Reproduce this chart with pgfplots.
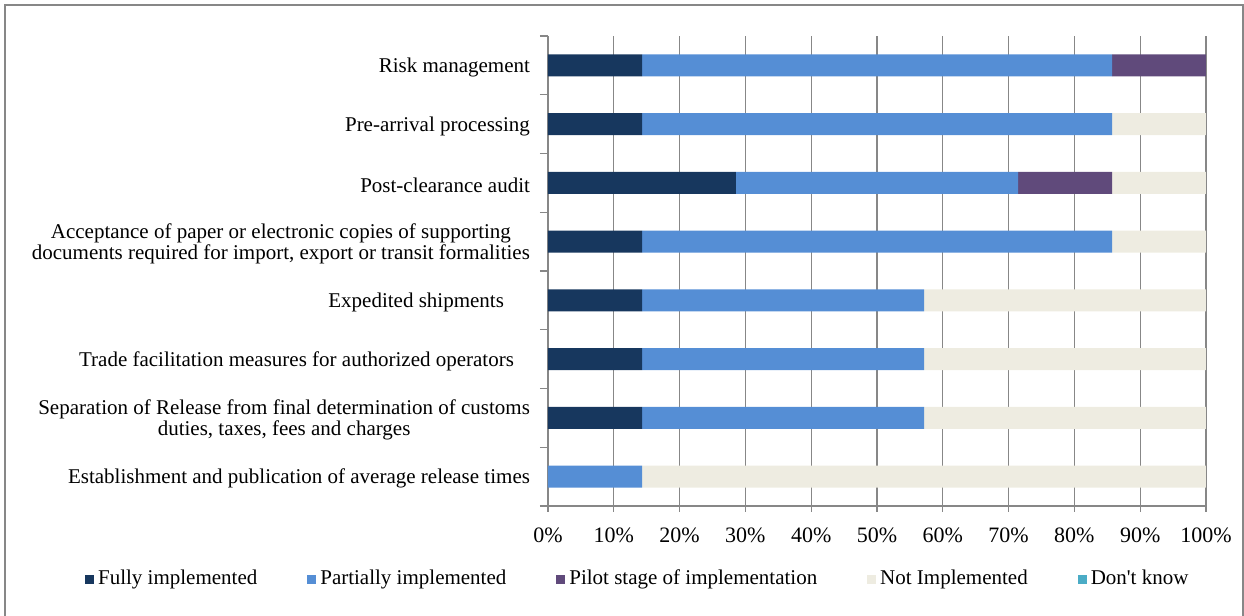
\documentclass[border=0pt]{standalone}
\usepackage{fontspec}
\setmainfont{Liberation Serif}
\newfontfamily\plainfont{Liberation Serif}
\usepackage{pgfplots}
\pgfplotsset{compat=1.18}

\definecolor{cFull}{HTML}{17375E}
\definecolor{cPart}{HTML}{558ED5}
\definecolor{cPilot}{HTML}{604A7B}
\definecolor{cNot}{HTML}{EEECE1}
\definecolor{cDK}{HTML}{4BACC6}
\definecolor{cGrid}{HTML}{878787}

\begin{document}
\begin{tikzpicture}
\begin{axis}[
    scale only axis,
    width=329pt, height=235pt,
    xbar stacked,
    bar width=0.375,
    xmin=0, xmax=100,
    ymin=-0.5, ymax=7.5,
    axis lines*=left,
    axis line style={cGrid, line width=0.6pt},
    xtick={0,10,...,100},
    xticklabel={\pgfmathprintnumber{\tick}\%},
    /pgf/number format/assume math mode=true,
    xmajorgrids=true,
    grid style={cGrid, line width=0.6pt},
    x tick style={cGrid, line width=0.6pt},
    xtick align=outside,
    major tick length=3pt,
    ytick={0,...,7},
    major y tick style={draw=none},
    minor ytick={-0.5,0.5,...,7.5},
    minor y tick style={cGrid, line width=0.6pt},
    minor tick length=4pt,
    ytick align=outside,
    yticklabels={
      Establishment and publication of average release times,
      {Separation of Release from final determination of customs\\duties, taxes, fees and charges},
      \mbox{Trade facilitation measures for authorized operators\hspace{8pt}},
      \mbox{Expedited shipments\hspace{13pt}},
      {Acceptance of paper or electronic copies of supporting\\documents required for import, export or transit formalities},
      Post-clearance audit,
      Pre-arrival processing,
      Risk management},
    yticklabel style={align=center, font=\fontsize{10.5}{10.6}\selectfont, xshift=-2.5pt, yshift=-1pt},
    xticklabel style={font=\fontsize{11}{13}\selectfont, yshift=-4.5pt},
    legend style={
      at={(0.138,-0.155)}, anchor=center,
      draw=none, fill=none,
      legend columns=5,
      font=\fontsize{10.5}{12}\selectfont,
      /tikz/every even column/.append style={column sep=23pt},
      legend cell align=left,
    },
    legend image code/.code={\fill[#1] (0pt,-2.4pt) rectangle (4.5pt,2.1pt);},
]
\addplot[fill=cFull, draw=none] coordinates {
  (0,0) (14.29,1) (14.29,2) (14.29,3) (14.29,4) (28.57,5) (14.29,6) (14.29,7)};
\addplot[fill=cPart, draw=none] coordinates {
  (14.29,0) (42.86,1) (42.86,2) (42.86,3) (71.43,4) (42.86,5) (71.43,6) (71.43,7)};
\addplot[fill=cPilot, draw=none] coordinates {
  (0,0) (0,1) (0,2) (0,3) (0,4) (14.29,5) (0,6) (14.29,7)};
\addplot[fill=cNot, draw=none] coordinates {
  (85.71,0) (42.86,1) (42.86,2) (42.86,3) (14.29,4) (14.29,5) (14.29,6) (0,7)};
\addplot[fill=cDK, draw=none] coordinates {
  (0,0) (0,1) (0,2) (0,3) (0,4) (0,5) (0,6) (0,7)};
\legend{Fully implemented, Partially implemented, Pilot stage of implementation, Not Implemented, {\plainfont Don't know}}
\end{axis}
\useasboundingbox
  ([xshift=-274pt, yshift=18pt]current axis.north west) rectangle
  ([xshift=19pt, yshift=-55pt]current axis.south east);
\draw[cGrid, line width=0.7pt]
  ([xshift=-271.5pt, yshift=15.5pt]current axis.north west) rectangle
  ([xshift=18.5pt, yshift=-56pt]current axis.south east);
\end{tikzpicture}
\end{document}
